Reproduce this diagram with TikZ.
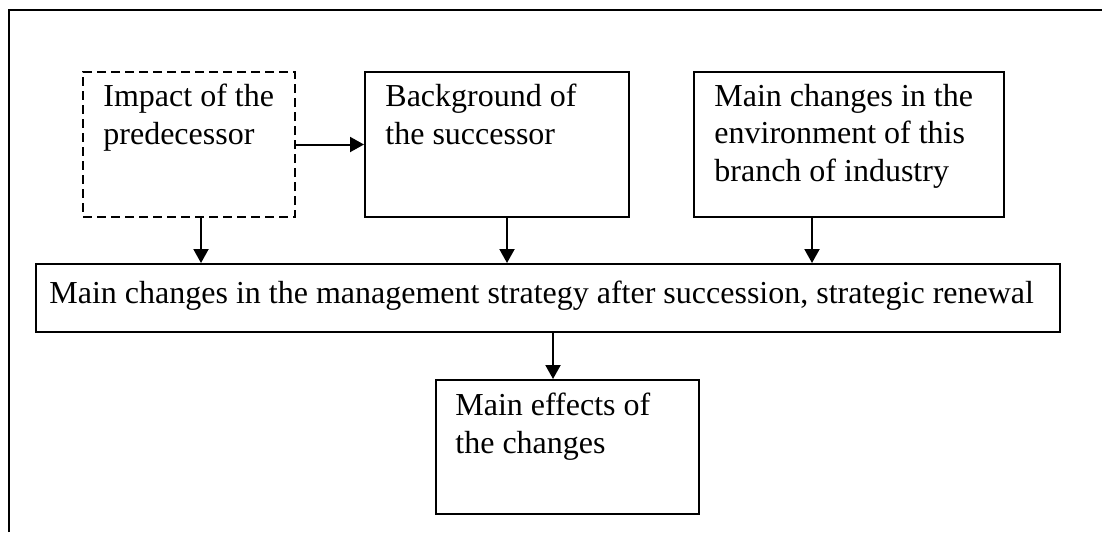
\documentclass[tikz,border=0pt]{standalone}
\usepackage{fontspec}
\setmainfont{Liberation Serif}
\usetikzlibrary{arrows.meta}
\begin{document}
\begin{tikzpicture}[x=0.5pt,y=-0.5pt,
  frame/.style={line width=1.3pt},
  boxnode/.style={draw, line width=1pt, anchor=north west, inner sep=0pt},
  dashbox/.style={boxnode, dash pattern=on 4.5pt off 2.5pt},
  txt/.style={anchor=north west, inner sep=0pt, align=left,
    font=\fontsize{16}{18.75}\selectfont, execute at begin node=\strut},
  link/.style={line width=1pt, -{Triangle[length=7pt,width=7.5pt]}}]
\useasboundingbox (0,0) rectangle (1102,532);

% outer frame (top and left edges)
\coordinate (fbl) at (9,532);
\coordinate (ftl) at (9,10);
\coordinate (ftr) at (1102,10);
\draw[frame] (fbl) -- (ftl) -- (ftr);

% boxes
\node[dashbox, minimum width=106pt, minimum height=72.5pt] (imp) at (82,71) {};
\node[boxnode, minimum width=132pt, minimum height=72.5pt] (bg) at (364,71) {};
\node[boxnode, minimum width=155pt, minimum height=72.5pt] (env) at (693,71) {};
\node[boxnode, minimum width=512pt, minimum height=34pt] (mgmt) at (35,263) {};
\node[boxnode, minimum width=131.5pt, minimum height=67pt] (eff) at (435,379) {};

% texts (top of strut = first baseline - 26.25 units)
\node[txt] (impT) at (103,83.75) {Impact of the\\predecessor};
\node[txt] (bgT) at (385,83.75) {Background of\\the successor};
\node[txt] (envT) at (714,83.75) {Main changes in the\\environment of this\\branch of industry};
\node[txt] (mgmtT) at (49,276.75) {Main changes in the management strategy after succession, strategic renewal};
\node[txt] (effT) at (455,392.75) {Main effects of\\the changes};

% connectors
\draw[link] (imp.east) -- (bg.west);
\draw[link] ([xshift=6pt]imp.south) -- ([xshift=6pt]imp.south |- mgmt.north);
\draw[link] ([xshift=5pt]bg.south) -- ([xshift=5pt]bg.south |- mgmt.north);
\draw[link] ([xshift=-18.5pt]env.south) -- ([xshift=-18.5pt]env.south |- mgmt.north);
\draw[link] ([xshift=2.5pt]mgmt.south) -- ([xshift=2.5pt]mgmt.south |- eff.north);
\end{tikzpicture}
\end{document}
